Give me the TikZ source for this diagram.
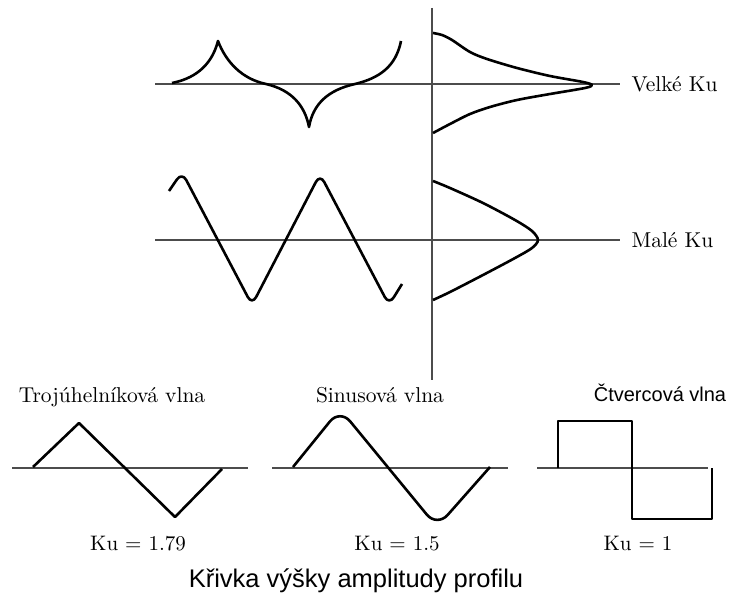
\documentclass[tikz,border=0pt]{standalone}
\usepackage{fontspec}
\newfontfamily\arialfont{Liberation Sans}
\newfontfamily\lmdeset{lmroman10-regular.otf}
\begin{document}
\begin{tikzpicture}[x=1pt,y=-1pt,font=\lmdeset\fontsize{21.5}{25}\selectfont,
  wave/.style={line width=2.6pt,line join=round},
  axis/.style={line width=1.2pt,black!70}]
\useasboundingbox (0,0) rectangle (733,602);
% horni cast
\draw[axis] (432,8) -- (432,380);
\draw[axis] (155,84) -- (620,84);
\draw[axis] (155,240) -- (620,240);
\node[anchor=base west] (velke) at (628,92) {Velké Ku};
\node[anchor=base west] (male) at (628,247) {Malé Ku};
\draw[wave] (172,83) .. controls (192,79) and (211,68) .. (218,41)
  .. controls (226,62) and (242,79) .. (266,84) .. controls (292,90) and (305,106) .. (309,127)
  .. controls (313,104) and (328,90) .. (355,84) .. controls (380,78) and (396,66) .. (401,41);
\draw[wave] plot[smooth] coordinates {(433,33) (442,35) (452,40) (470,52) (487,59) (517,68)
  (550,76) (583,82) (592,85) (585,88) (550,94) (517,100) (490,107) (470,114) (450,124) (433,133)};
\draw[wave,rounded corners=9pt] (169,191) -- (182,172) -- (252,305) -- (320,174) -- (389,305) -- (402,284);
\draw[wave] plot[smooth] coordinates {(433,181) (450,188) (483,203) (515,220) (532,231) (538,240)
  (532,248) (515,258) (483,275) (450,292) (433,300)};
% dolni cast
\node[anchor=base] (troj) at (112,402) {Trojúhelníková vlna};
\node[anchor=base] (sinus) at (380,402) {Sinusová vlna};
\node[anchor=base,font=\arialfont\fontsize{20}{24}\selectfont] (ctverec) at (660,401) {Čtvercová vlna};
\draw[axis] (12,468) -- (248,468);
\draw[axis] (272,468) -- (508,468);
\draw[axis] (537,468) -- (708,468);
\draw[wave] (33,467) -- (79,423) -- (175,517) -- (222,469);
\draw[wave,rounded corners=16pt] (293,467) -- (340,409) -- (437,527) -- (490,467);
\draw[wave] (558,468) -- (558,421) -- (632,421) -- (632,519) -- (712,519) -- (712,468);
\node[anchor=base,font=\lmdeset\fontsize{21}{25}\selectfont] (kutroj) at (138,550) {Ku = 1.79};
\node[anchor=base,font=\lmdeset\fontsize{21}{25}\selectfont] (kusinus) at (397,550) {Ku = 1.5};
\node[anchor=base,font=\lmdeset\fontsize{21}{25}\selectfont] (kuctverec) at (638,550) {Ku = 1};
\node[anchor=base,font=\arialfont\fontsize{25.5}{30}\selectfont] (nazev) at (356,587) {Křivka výšky amplitudy profilu};
\end{tikzpicture}
\end{document}
